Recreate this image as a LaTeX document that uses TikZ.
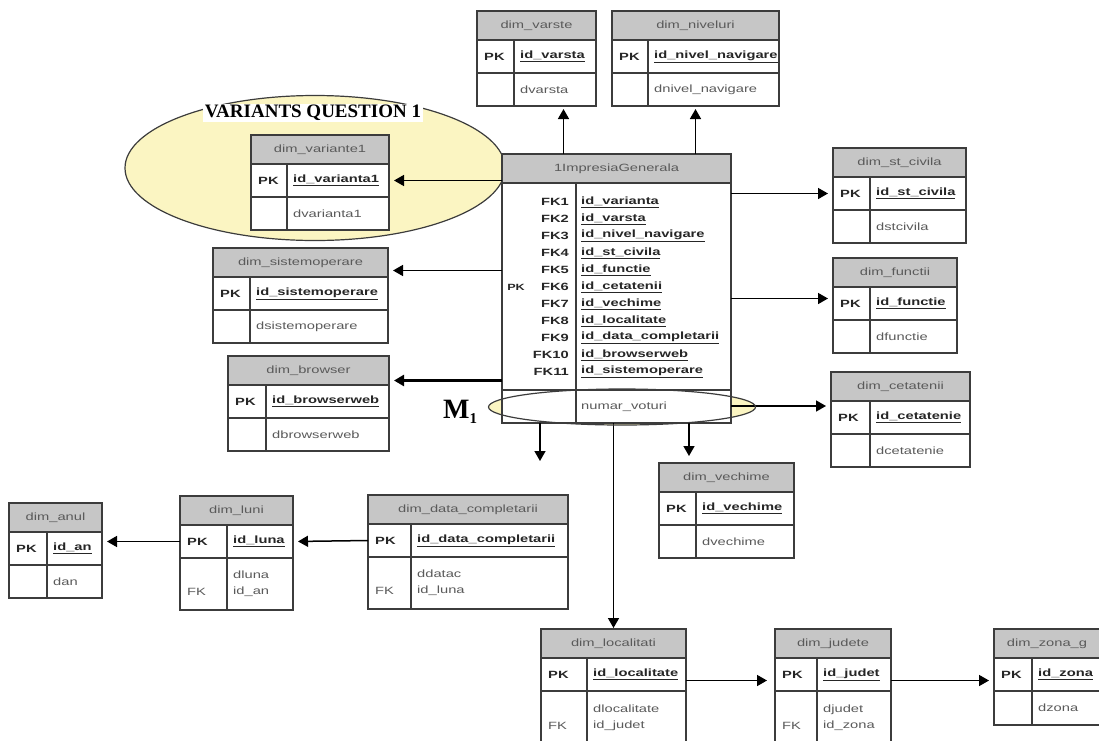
\documentclass[tikz,border=0pt]{standalone}
\usepackage{fontspec}
\setmainfont{Liberation Serif}
\newfontfamily\tabfont[FakeStretch=1.4]{Liberation Sans}
\usetikzlibrary{positioning,arrows.meta,shapes.geometric}

\definecolor{headgray}{HTML}{C6C6C6}
\definecolor{txtgray}{HTML}{5A5A5A}
\definecolor{linegray}{HTML}{3C3C3C}
\definecolor{paleyellow}{HTML}{FBF5C2}

\tikzset{
  cell/.style={draw=linegray, line width=1.2pt, inner sep=0pt, outer sep=0pt},
  headcell/.style={cell, fill=headgray, minimum height=29pt, font=\tabfont\fontsize{10.5}{12}\selectfont, text=txtgray},
  bodycell/.style={cell, fill=white, minimum height=33pt},
  keytxt/.style={font=\tabfont\fontsize{10.5}{12}\selectfont\bfseries, text=black!85, anchor=west, inner sep=0pt},
  idtxt/.style={keytxt},
  attrtxt/.style={font=\tabfont\fontsize{10.5}{16}\selectfont, text=txtgray, anchor=west, inner sep=0pt, align=left},
  fk/.style={draw=black, line width=1.5pt, shorten >=5pt, -{Triangle[width=11pt,length=10pt]}},
}

% one dimension table: name, top left, width, key column, title, key, attributes, attribute row height
\newcommand{\dimtab}[8]{%
  \node[headcell, anchor=north west, minimum width=#3pt] (#1) at (#2) {#5};
  \node[bodycell, minimum width=#3pt, below=0pt of #1] (#1-pk) {};
  \node[bodycell, minimum width=#3pt, minimum height=#8pt, below=0pt of #1-pk] (#1-at) {};
  \draw[linegray, line width=1.2pt] ([xshift=#4pt]#1-pk.north west) -- ([xshift=#4pt]#1-at.south west);
  \node[keytxt] (#1-k) at ([xshift=7pt]#1-pk.west) {PK};
  \node[idtxt] (#1-id) at ([xshift=#4pt+6pt]#1-pk.west) {\underline{#6}};
  \node[attrtxt] (#1-d) at ([xshift=#4pt+6pt]#1-at.west) {#7};
}

\begin{document}
\begin{tikzpicture}[x=1pt, y=-1pt]
  \useasboundingbox (0,0) rectangle (1099,740);
  \clip (0,0) rectangle (1099,740);
  \fill[white] (0,0) rectangle (1099,740);

  % highlighted areas
  \node[ellipse, draw=linegray, line width=1.2pt, fill=paleyellow, minimum width=380pt, minimum height=145pt] (vq-area) at (315,168) {};
  \node[ellipse, fill=paleyellow, minimum width=267pt, minimum height=36pt] (m1-area) at (622,407) {};

  % fact table
  \node[headcell, anchor=north west, minimum width=229pt] (fact) at (502,154) {1ImpresiaGenerala};
  \node[bodycell, minimum width=229pt, minimum height=207pt, below=0pt of fact] (fact-fk) {};
  \node[bodycell, minimum width=229pt, minimum height=33pt, below=0pt of fact-fk] (fact-m) {};
  \draw[linegray, line width=1.2pt] ([xshift=74pt]fact-fk.north west) -- ([xshift=74pt]fact-m.south west);
  \foreach \i/\c in {1/varianta, 2/varsta, 3/nivel\_navigare, 4/st\_civila, 5/functie, 6/cetatenii,
                     7/vechime, 8/localitate, 9/data\_completarii, 10/browserweb, 11/sistemoperare}{
    \node[keytxt, anchor=east] (fk\i) at (569,185+17*\i) {FK\i};
    \node[idtxt] (id\i) at (581,185+17*\i) {\underline{id\_\c}};
  }
  \node[keytxt, anchor=east, font=\tabfont\fontsize{9}{10}\selectfont\bfseries] (pk6) at (525,287) {PK};
  \node[attrtxt] (nv) at (581,407) {numar\_voturi};

  % dimension tables
  \dimtab{var1}{251,135}{138}{36}{dim\_variante1}{id\_varianta1}{dvarianta1}{33}
  \dimtab{vst}{477,11}{119}{37}{dim\_varste}{id\_varsta}{dvarsta}{33}
  \dimtab{niv}{612,11}{167}{36}{dim\_niveluri}{id\_nivel\_navigare}{dnivel\_navigare}{33}
  \dimtab{stc}{833,148}{133}{37}{dim\_st\_civila}{id\_st\_civila}{dstcivila}{33}
  \dimtab{fct}{833,258}{124}{37}{dim\_functii}{id\_functie}{dfunctie}{33}
  \dimtab{cet}{831,372}{139}{39}{dim\_cetatenii}{id\_cetatenie}{dcetatenie}{33}
  \dimtab{sis}{213,248}{175}{37}{dim\_sistemoperare}{id\_sistemoperare}{dsistemoperare}{33}
  \dimtab{brw}{228,356}{161}{38}{dim\_browser}{id\_browserweb}{dbrowserweb}{33}
  \dimtab{vch}{659,463}{135}{37}{dim\_vechime}{id\_vechime}{dvechime}{33}
  \dimtab{anul}{9,503}{93}{38}{dim\_anul}{id\_an}{dan}{33}
  \dimtab{luni}{180,496}{113}{47}{dim\_luni}{id\_luna}{dluna\\id\_an}{52}
  \dimtab{datac}{368,495}{200}{43}{dim\_data\_completarii}{id\_data\_completarii}{ddatac\\id\_luna}{52}
  \dimtab{loc}{541,629}{145}{46}{dim\_localitati}{id\_localitate}{dlocalitate\\id\_judet}{54}
  \dimtab{jud}{775,629}{116}{42}{dim\_judete}{id\_judet}{djudet\\id\_zona}{54}
  \dimtab{zona}{994,629}{106}{38}{dim\_zona\_g}{id\_zona}{dzona}{34}
  \foreach \t in {luni, datac, loc, jud}
    \node[attrtxt] (\t-fk) at ([xshift=7pt, yshift=-8pt]\t-at.west) {FK};

  % connectors
  \coordinate (sis-in) at ([yshift=-8pt]sis.east);
  \coordinate (brw-in) at ([yshift=-10pt]brw.east);
  \coordinate (vst-in) at ([xshift=27pt]vst-at.south);
  \coordinate (fct-in) at ([yshift=5pt]fct-pk.west);
  \coordinate (cet-in) at ([yshift=-5pt]cet.south west);
  \coordinate (vch-in) at ([xshift=30pt]vch.north west);
  \coordinate (loc-out) at ([yshift=-6pt]loc-pk.east);
  \coordinate (dangle) at (540,461);

  \draw[fk] (fact-fk.west |- var1-pk.east) -- (var1-pk.east);
  \draw[fk] (fact-fk.west |- sis-in) -- (sis-in);
  \draw[fk, line width=2.4pt] (fact-fk.west |- brw-in) -- (brw-in);
  \draw[fk, shorten >=3pt] (vst-in |- fact.north) -- (vst-in);
  \draw[fk, shorten >=3pt] (niv-at.south |- fact.north) -- (niv-at.south);
  \draw[fk] (fact-fk.east |- stc-pk.west) -- (stc-pk.west);
  \draw[fk] (fact-fk.east |- fct-in) -- (fct-in);
  \draw[fk] (fact-m.east |- cet-in) -- (cet-in);
  \draw[fk, shorten >=7pt] (vch-in |- fact-m.south) -- (vch-in);
  \draw[fk, shorten >=0pt] (dangle |- fact-m.south) -- (dangle);
  \draw[fk, shorten >=1pt] (loc.north |- fact-m.south) -- (loc.north);
  \draw[fk, shorten >=8pt] (loc-out) -- (loc-out -| jud-pk.west);
  \draw[fk] (jud-pk.east |- loc-out) -- (zona-pk.west |- loc-out);
  \draw[fk] (datac-pk.west) -- (luni-pk.east);
  \draw[fk] (luni-pk.west) -- (anul-pk.east |- luni-pk.west);

  % labels over the areas
  \node[ellipse, draw=linegray, line width=1.2pt, minimum width=267pt, minimum height=36pt] (m1-ring) at (m1-area) {};
  \node[font=\bfseries\fontsize{19}{22}\selectfont, fill=white, inner sep=1.5pt] (vq) at (313,113) {VARIANTS QUESTION 1};
  \node[font=\bfseries\fontsize{28}{30}\selectfont, inner sep=0pt, anchor=base west] (m1) at (443,418) {M\raisebox{-5pt}{\fontsize{15}{16}\selectfont 1}};
\end{tikzpicture}
\end{document}
